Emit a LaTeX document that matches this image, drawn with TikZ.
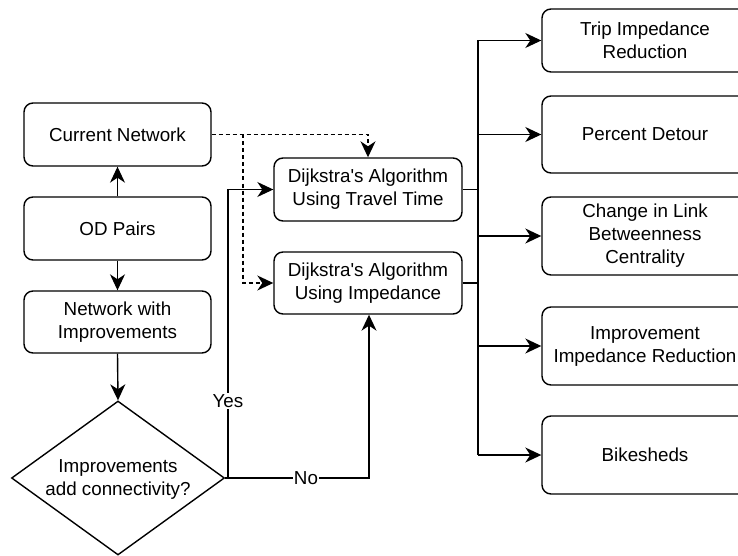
\documentclass[tikz,border=0pt]{standalone}
\usepackage{fontspec}
\setmainfont{Liberation Sans}[Ligatures=TeXOff]
\usetikzlibrary{arrows.meta,shapes.geometric}
\begin{document}
\begin{tikzpicture}[x=1pt,y=-1pt,
  >={Stealth[length=16pt,width=15pt,inset=5pt]},
  every node/.style={font=\fontsize{18.8}{23}\selectfont},
  box/.style={draw, rounded corners=9pt, line width=1.4pt, align=center, inner sep=0pt},
  lbox/.style={box, minimum width=187pt, minimum height=63pt},
  dbox/.style={box, minimum width=188pt, minimum height=63pt},
  rbox/.style={box, minimum width=206pt, minimum height=78pt},
  conn/.style={line width=1.4pt, ->},
  plain/.style={line width=1.4pt},
  dconn/.style={conn, dash pattern=on 4pt off 3pt},
  lab/.style={fill=white, inner sep=1pt}
]
\useasboundingbox (0,0) rectangle (738,556);
\clip (0,0) rectangle (738,556);
\fill[white] (0,0) rectangle (738,556);

% left column
\node[lbox] (cur) at (117.5,134.5) {Current Network};
\node[lbox] (od) at (117.5,228.5) {OD Pairs};
\node[lbox, minimum height=62pt] (nwi) at (117.5,322) {Network with\\Improvements};
\node[diamond, draw, line width=1.4pt, minimum width=213pt, minimum height=154pt, inner sep=0pt] (dec) at (118,478) {};
\node[align=center] (dectext) at (118,479) {Improvements\\add connectivity?};

% Dijkstra boxes
\node[dbox] (tt) at (368,189.5) {Dijkstra's Algorithm\\Using Travel Time};
\node[dbox, minimum height=62pt] (imp) at (368,283) {Dijkstra's Algorithm\\Using Impedance};

% right column
\node[rbox, minimum height=63pt] (trip) at (645,40.5) {Trip Impedance\\Reduction};
\node[rbox, minimum height=77pt] (pd) at (645,134.5) {Percent Detour};
\node[rbox] (cl) at (645,236) {Change in Link\\Betweenness\\Centrality};
\node[rbox] (iir) at (645,346) {Improvement\\Impedance Reduction};
\node[rbox] (bike) at (645,455) {Bikesheds};

% left connectors
\draw[conn] (od.north) -- (cur.south);
\draw[conn] (od.south) -- (nwi.north);
\draw[conn] (nwi.south) -- (dec.north);

% yes / no
\coordinate (yesx) at (228,478);
\draw[conn] (dec.east) -- (yesx) |- (tt.west);
\node[lab] (yes) at (228,401) {Yes};
\coordinate (nox) at (369,478);
\draw[conn] (dec.east) -- (nox) -- (nox |- imp.south);
\node[lab] (no) at (306,478) {No};

% dashed
\draw[dconn] (cur.east) -| (tt.north);
\coordinate (dsplit) at (243,134.5);
\draw[dconn] (dsplit) |- (imp.west);

% trunk
\coordinate (ttop) at (478,40.5);
\coordinate (tbot) at (478,455);
\draw[plain] (ttop) -- (tbot);
\draw[plain] (tt.east) -- (tt.east -| ttop);
\draw[plain] (imp.east) -- (imp.east -| ttop);
\draw[conn] (ttop) -- (trip.west);
\draw[conn] (pd.west -| ttop) -- (pd.west);
\draw[conn] (cl.west -| ttop) -- (cl.west);
\draw[conn] (iir.west -| ttop) -- (iir.west);
\draw[conn] (tbot) -- (bike.west);
\end{tikzpicture}
\end{document}
